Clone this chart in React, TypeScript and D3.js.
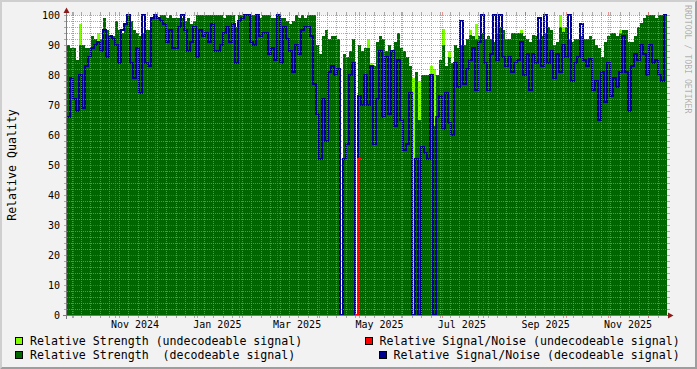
import React from 'react';
import * as d3 from 'd3';

// ---- time axis (uniform samples) ----
const START_MS = Date.UTC(2024, 8, 26, 16, 0, 0);
const SPAN_DAYS = 444.2;
const END_MS = START_MS + SPAN_DAYS * 86400000;

// Relative Strength (decodeable signal), one value per sample
const strengthDecodeable: (number | null)[] = [
  90, 89, 89, 85, 90, 90, 89, 89, 93, 92,
  91, 92, 99, 95, 93, 93, 98, 95, 94, 97,
  100, 98, 95, 94, 93, 94, 95, 95, 99, 100,
  99, 100, 100, 99, 100, 99, 99, 99, 99, 98,
  99, 97, 98, 100, 100, 100, 100, 100, 100, 100,
  100, 100, 99, 100, 100, 100, 96, 100, 100, 100,
  100, 100, 100, 100, 99, 100, 100, 100, 99, 99,
  100, 99, 99, 98, 97, 98, 100, 99, 100, 99,
  100, 100, 100, 90, 87, 93, 95, 92, 93, 93,
  92, null, 87, 86, 88, 92, null, 90, 88, 89,
  89, 83, 83, 91, 93, 92, 88, 90, 88, 91,
  94, 89, 88, 86, 83, null, 81, 65, 80, 80,
  80, 80, 63, 80, 85, 90, 83, 86, 84, 90,
  89, 90, 90, 92, 93.5, 93, 92, 93, 94, 92,
  93, 92, 91, 94, 96, 95, 92, 92, 94, 94,
  94, 94, 93, 92, 91, 93.5, 93, 92, 93, 94,
  96, 95, 90, 91, 96, 94.5, 96, 92, 91, 92,
  92, 93, 92, 92, 93, 92, 90, 89, 86, 91,
  93, 94, 94, 93, 94, 95, 95, 91, 91, 93,
  96, 97.5, 99, 100, 100, 100, 99, 100, 100, 100,
];

// Relative Signal/Noise (decodeable signal)
const snDecodeable: (number | null)[] = [
  66, 79, 72, 68, 80, 69, 83, 86, 89, 90,
  91, 88, 95, 86, 93, 92, 90, 84, 95, 97,
  100, 84, 79, 89, 74, 100, 84, 83, 99, 100,
  99, 98, 97, 91, 95, 89, 89, 96, 100, 95,
  88, 91, 96, 86, 95, 93, 94, 91, 97, 88,
  88, 90, 94, 96, 91, 97, 84, 98, 99, 100,
  100, 91, 90, 100, 93, 94, 94, 87, 89, 85,
  100, 84, 96, 92, 88, 81, 90, 87, 95, 96,
  96, 93, 77, 67, 52, 72, 58, 81, 83, 80,
  82, 0, 52, 57, 80, 84, 0, 73, 70, 80,
  70, 83, 57, 72, 88, 66, 86, 67, 88, 63,
  85, 65, 55, 57, 74, 0, 52, 0, 56, 54,
  52, 80, 0, 66, 73, 62, 74, 64, 60, 84,
  76, 98, 77, 82, 85, 89, 75, 91, 100, 84,
  75, 87, 100, 85, 100, 86, 83, 86, 81, 84,
  85, 91, 80, 87, 75, 87, 84, 99, 83, 100,
  84, 88, 79, 87, 81, 90, 86, 100, 78, 84,
  86, 97, 85, 83, 85.5, 75, 78, 65, 81, 71,
  84, 73, 79, 76, 81, 93, 81, 68, 83, 87,
  85, 90, 87, 80, 90, 84, 85, 80, 78, 100,
];

// Relative Strength (undecodeable signal): [sample index, value]
const strengthUndecodeableSamples: [number, number][] = [
  [4, 97], [10, 94], [100, 92], [101, 84], [115, 79], [117, 78],
  [121, 83], [122, 82], [125, 95.5], [127, 88], [134, 95], [136, 97],
  [143, 96.5], [151, 95], [157, 94], [164, 100], [165, 96], [184, 95],
];

// Relative Signal/Noise (undecodeable signal): [sample index, value]
const snUndecodeableSamples: [number, number][] = [[96, 0], [97, 52]];

const yTicks = [0, 10, 20, 30, 40, 50, 60, 70, 80, 90, 100];

const legendLabels = [
  'Relative Strength (undecodeable signal)',
  'Relative Signal/Noise (undecodeable signal)',
  'Relative Strength  (decodeable signal)',
  'Relative Signal/Noise (decodeable signal)',
];

const C_LIME = '#80ff00';
const C_GREEN = '#006600';
const C_RED = '#ff0000';
const C_BLUE = '#000090';
const GRID = 'rgba(143,143,143,0.75)';
const MGRID = 'rgba(222,79,79,0.6)';
const MONO = '"DejaVu Sans Mono", monospace';
const LEGEND_ADV = 6.98;

type P = { t: Date; v: number | null };

export default function App() {
  const W = 697, H = 369;
  const left = 67, right = 667, top = 15, bottom = 315;
  const start = new Date(START_MS), end = new Date(END_MS);
  const x = d3.scaleUtc().domain([start, end]).range([left, right]);
  const y = d3.scaleLinear().domain([0, 100]).range([bottom, top]);
  const n = strengthDecodeable.length;
  const stepMs = (END_MS - START_MS) / n;
  const tAt = (i: number) => new Date(START_MS + i * stepMs);

  const toStep = (vals: (number | null)[]): P[] =>
    vals.flatMap((v, i) => [{ t: tAt(i), v }, { t: tAt(i + 1), v }]);
  const sparse = (pairs: [number, number][]) => {
    const a: (number | null)[] = new Array(n).fill(null);
    pairs.forEach(([i, v]) => { a[i] = v; });
    return a;
  };

  const area = d3.area<P>().defined(d => d.v != null)
    .x(d => x(d.t)).y0(y(0)).y1(d => y(d.v as number));
  const line = d3.line<P>().defined(d => d.v != null)
    .x(d => x(d.t)).y(d => y(d.v as number));

  const limePath = area(toStep(sparse(strengthUndecodeableSamples))) || '';
  const greenPath = area(toStep(strengthDecodeable)) || '';
  const redPath = line(toStep(sparse(snUndecodeableSamples))) || '';
  const bluePath = line(toStep(snDecodeable)) || '';

  const minorY = d3.range(2, 100, 2).filter(v => v % 10 !== 0);
  const weeks = d3.utcMonday.range(start, end);
  const months = d3.utcMonth.range(start, end);
  const labelMonths = d3.utcMonth.every(2)!.range(d3.utcMonth.floor(start), end)
    .map(m => ({ m, px: x(new Date(m.getTime() + 15 * 86400000)) }))
    .filter(d => d.px > left && d.px < right);
  const fmt = d3.utcFormat('%b %Y');

  const hLine = (v: number, color: string, key: string) => {
    const yy = Math.round(y(v)) + 0.5;
    return (
      <g key={key}>
        <line x1={left} x2={right} y1={yy} y2={yy} stroke={color} strokeDasharray="1,1" />
        <line x1={left - 3} x2={left} y1={yy} y2={yy} stroke={color} />
        <line x1={right} x2={right + 3} y1={yy} y2={yy} stroke={color} />
      </g>
    );
  };
  const vLine = (t: Date, color: string, key: string) => {
    const xx = Math.round(x(t)) + 0.5;
    return (
      <g key={key}>
        <line x1={xx} x2={xx} y1={top} y2={bottom} stroke={color} strokeDasharray="1,1" />
        <line x1={xx} x2={xx} y1={bottom} y2={bottom + 3} stroke={color} />
        <line x1={xx} x2={xx} y1={top - 3} y2={top} stroke={color} />
      </g>
    );
  };

  const legendText = (label: string, lx: number, ly: number) => (
    <text x={lx} y={ly} fontSize={11.6} style={{ whiteSpace: 'pre' }}
      textLength={label.length * LEGEND_ADV} lengthAdjust="spacing">{label}</text>
  );

  return (
    <svg width={W} height={H} style={{ position: 'absolute', left: 0, top: 0, display: 'block' }}
      fontFamily={MONO}>
      <rect x={0} y={0} width={W} height={H} fill="#f2f2f2" />
      <polygon points={`0,0 ${W},0 ${W - 2},2 2,2 2,${H - 2} 0,${H}`} fill="#cfcfcf" />
      <polygon points={`${W},0 ${W},${H} 0,${H} 2,${H - 2} ${W - 2},${H - 2} ${W - 2},2`} fill="#9e9e9e" />
      <rect x={left} y={top} width={right - left} height={bottom - top} fill="#ffffff" />

      <path d={limePath} fill={C_LIME} shapeRendering="crispEdges" />
      <path d={greenPath} fill={C_GREEN} shapeRendering="crispEdges" />
      <path d={bluePath} fill="none" stroke={C_BLUE} strokeWidth={2} shapeRendering="crispEdges" />
      <path d={redPath} fill="none" stroke={C_RED} strokeWidth={2} shapeRendering="crispEdges" />

      {minorY.map(v => hLine(v, GRID, 'hm' + v))}
      {weeks.map((t, i) => vLine(t, GRID, 'vm' + i))}
      {yTicks.map(v => hLine(v, MGRID, 'hM' + v))}
      {months.map((t, i) => vLine(t, MGRID, 'vM' + i))}

      {/* axes */}
      <line x1={left - 0.5} x2={left - 0.5} y1={bottom + 4} y2={top - 5} stroke="#7a7a7a" />
      <line x1={left - 4} x2={right + 2} y1={bottom + 0.5} y2={bottom + 0.5} stroke="#7a7a7a" />
      <polygon points={`${left - 3.5},${top - 2} ${left + 2.5},${top - 2} ${left - 0.5},${top - 7.5}`} fill="#8b1a1a" />
      <polygon points={`${right + 1},${bottom - 2.5} ${right + 1},${bottom + 3.5} ${right + 6.5},${bottom + 0.5}`} fill="#8b1a1a" />

      {yTicks.map(v => (
        <text key={'yl' + v} x={60} y={y(v) + 3.5} textAnchor="end" fontSize={10} fill="#000">{v}</text>
      ))}
      {labelMonths.map(d => (
        <text key={'xl' + d.m.getTime()} x={d.px} y={328} textAnchor="middle" fontSize={10} fill="#000">{fmt(d.m)}</text>
      ))}

      <text transform={`translate(15.5,${(top + bottom) / 2}) rotate(-90)`} textAnchor="middle"
        fontSize={11.6} fill="#000">Relative Quality</text>
      <text transform="translate(685,5) rotate(90)" fontSize={8.2} fill="#000" fillOpacity={0.3}>RRDTOOL / TOBI OETIKER</text>

      {/* legend */}
      <rect x={15.5} y={337.5} width={7} height={7} fill={C_LIME} stroke="#000" />
      {legendText(legendLabels[0], 30, 345)}
      <rect x={365.5} y={337.5} width={7} height={7} fill={C_RED} stroke="#000" />
      {legendText(legendLabels[1], 379.5, 345)}
      <rect x={15.5} y={351.5} width={7} height={7} fill={C_GREEN} stroke="#000" />
      {legendText(legendLabels[2], 30, 359)}
      <rect x={379.5} y={351.5} width={7} height={7} fill={C_BLUE} stroke="#000" />
      {legendText(legendLabels[3], 393.5, 359)}
    </svg>
  );
}
